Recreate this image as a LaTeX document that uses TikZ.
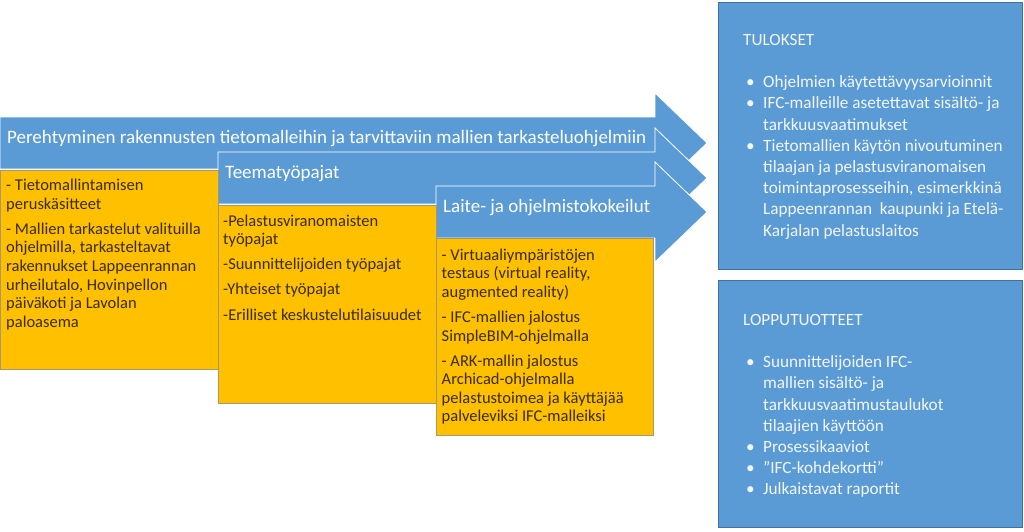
\documentclass[tikz,border=0pt]{standalone}
\usepackage{fontspec}
\setmainfont{Carlito}
\definecolor{nuoli}{HTML}{5B9BD5}
\definecolor{laatikko}{HTML}{FFC000}
\definecolor{reuna}{HTML}{A8976A}
\definecolor{tumma}{HTML}{41719C}
\definecolor{teksti}{HTML}{3A2C00}
\definecolor{vaalea}{HTML}{F2F6FB}
\newcommand{\kohta}{\makebox[20pt][l]{\hspace{3pt}•}}
\newcommand{\jatko}{\hspace*{20pt}}

\begin{document}
\begin{tikzpicture}[x=1pt,y=-1pt,
  nuolipohja/.style={fill=nuoli,draw=white,line width=0.8pt},
  nuoliteksti/.style={anchor=base west,inner sep=0pt,text=white,font=\fontsize{19}{23}\selectfont},
  vaihe/.style={fill=laatikko,draw=reuna,line width=0.8pt},
  vaiheteksti/.style={anchor=north west,align=left,inner sep=0pt,text=teksti,font=\fontsize{16.5}{18.6}\selectfont},
  tulos/.style={fill=nuoli,draw=tumma,line width=1pt},
  tulosteksti/.style={anchor=north west,align=left,inner sep=0pt,text=vaalea,font=\fontsize{17.2}{21.2}\selectfont}]
  \useasboundingbox (0,0) rectangle (1024,531);
  % nuolet
  \foreach \xs/\yc/\nimi/\teksti in {0/143/perehtyminen/{Perehtyminen rakennusten tietomalleihin ja tarvittaviin mallien tarkasteluohjelmiin},
      218/178/teemat/{Teematyöpajat}, 436/212/kokeilut/{Laite- ja ohjelmistokokeilut}} {
    \draw[nuolipohja] (\xs,\yc-26) -- (655,\yc-26) -- (655,\yc-50) -- (707,\yc)
      -- (655,\yc+50) -- (655,\yc+26) -- (\xs,\yc+26) -- cycle;
    \node[nuoliteksti] (\nimi) at (\xs+7,\yc) {\teksti};
  }
  % vaiheiden sisältö
  \draw[vaihe] (0,170) rectangle (218,369);
  \draw[vaihe] (218,205) rectangle (436,403);
  \draw[vaihe] (436,238) rectangle (653,435);
  \node[vaiheteksti] (sisalto1) at (6,179) {- Tietomallintamisen\\ peruskäsitteet\\[6.5pt]
    - Mallien tarkastelut valituilla\\ ohjelmilla, tarkasteltavat\\ rakennukset Lappeenrannan\\
    urheilutalo, Hovinpellon\\ päiväkoti ja Lavolan\\ paloasema};
  \node[vaiheteksti] (sisalto2) at (223,214.5) {-Pelastusviranomaisten\\ työpajat\\[6.5pt]
    -Suunnittelijoiden työpajat\\[6.5pt] -Yhteiset työpajat\\[6.5pt] -Erilliset keskustelutilaisuudet};
  \node[vaiheteksti] (sisalto3) at (441.5,248.5) {- Virtuaaliympäristöjen\\ testaus (virtual reality,\\ augmented reality)\\[6.5pt]
    - IFC-mallien jalostus\\ SimpleBIM-ohjelmalla\\[6.5pt]
    - ARK-mallin jalostus\\ Archicad-ohjelmalla\\ pelastustoimea ja käyttäjää\\ palveleviksi IFC-malleiksi};
  % tulokset ja lopputuotteet
  \draw[tulos] (718,2) rectangle (1022,269);
  \draw[tulos] (718,280) rectangle (1022,527);
  \node[tulosteksti] (tulokset) at (743,34) {TULOKSET\\[21.2pt]
    \kohta Ohjelmien käytettävyysarvioinnit\\
    \kohta IFC-malleille asetettavat sisältö- ja\\ \jatko tarkkuusvaatimukset\\
    \kohta Tietomallien käytön nivoutuminen\\ \jatko tilaajan ja pelastusviranomaisen\\
    \jatko toimintaprosesseihin, esimerkkinä\\ \jatko Lappeenrannan\ \ kaupunki ja Etelä-\\
    \jatko Karjalan pelastuslaitos};
  \node[tulosteksti] (lopputuotteet) at (743,314) {LOPPUTUOTTEET\\[21.2pt]
    \kohta Suunnittelijoiden IFC-\\ \jatko mallien sisältö- ja\\ \jatko tarkkuusvaatimustaulukot\\
    \jatko tilaajien käyttöön\\ \kohta Prosessikaaviot\\ \kohta ”IFC-kohdekortti”\\
    \kohta Julkaistavat raportit};
\end{tikzpicture}
\end{document}
